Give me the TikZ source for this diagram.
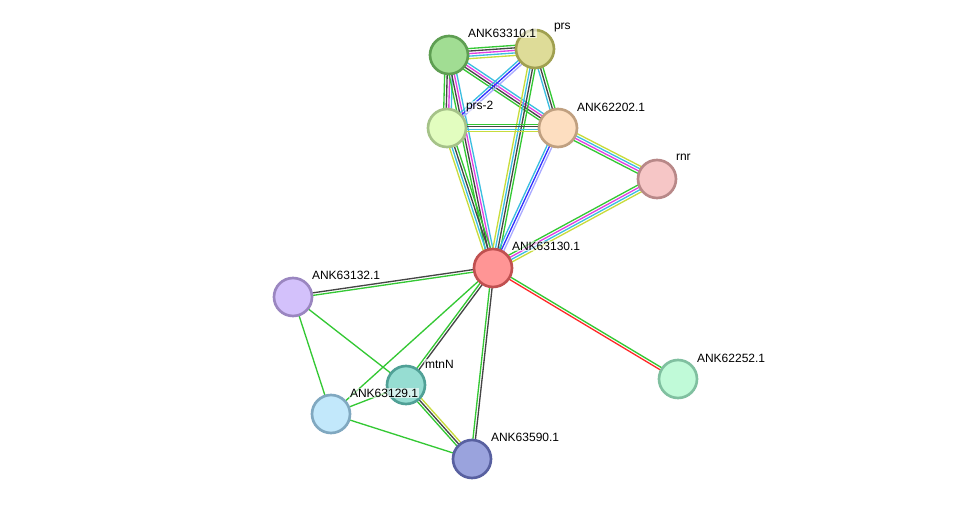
\documentclass[tikz,border=0pt]{standalone}
\usepackage{fontspec}
\setmainfont{Liberation Sans}
\usetikzlibrary{calc,backgrounds}

% evidence colours
\definecolor{tm}{HTML}{C8DC3C}
\definecolor{db}{HTML}{3CBEE0}
\definecolor{ex}{HTML}{E040E0}
\definecolor{co}{HTML}{454545}
\definecolor{nb}{HTML}{34C834}
\definecolor{hm}{HTML}{AAAAFF}
\definecolor{cc}{HTML}{3333FF}
\definecolor{fu}{HTML}{FF2A2A}
% protein colours (fill, border)
\definecolor{fA}{HTML}{A1DD93}\definecolor{bA}{HTML}{5E9E52}
\definecolor{fP}{HTML}{DEDC98}\definecolor{bP}{HTML}{A0A050}
\definecolor{fPt}{HTML}{E2FDBF}\definecolor{bPt}{HTML}{A5C288}
\definecolor{fG}{HTML}{FDDEC0}\definecolor{bG}{HTML}{C0A080}
\definecolor{fR}{HTML}{F6C6C6}\definecolor{bR}{HTML}{B88888}
\definecolor{fC}{HTML}{FF9595}\definecolor{bC}{HTML}{C05050}
\definecolor{fK}{HTML}{D3C1FB}\definecolor{bK}{HTML}{9A86C0}
\definecolor{fM}{HTML}{96DDD2}\definecolor{bM}{HTML}{50A096}
\definecolor{fL}{HTML}{C2E8FB}\definecolor{bL}{HTML}{80A8C0}
\definecolor{fS}{HTML}{9AA3DD}\definecolor{bS}{HTML}{5860A0}
\definecolor{fT}{HTML}{C0FAD8}\definecolor{bT}{HTML}{80C0A0}

% #1,#2 nodes, #3 number of lines, #4 colours
\newcommand\lnk[4]{%
  \foreach \c [count=\i] in {#4} {%
    \pgfmathsetmacro\off{(\i-(#3+1)/2)*1.9}
    \draw[\c, line width=1pt] ($(#1)!\off pt!90:(#2)$) -- ($(#2)!\off pt!-90:(#1)$);
  }%
}

\begin{document}
\begin{tikzpicture}[x=0.75pt, y=-0.75pt,
  prot/.style={circle, line width=2pt, minimum size=28.5pt, inner sep=0pt},
  lbl/.style={anchor=west, inner sep=0.6pt, fill=white, fill opacity=0.6, text opacity=1,
    font=\fontsize{9}{10}\selectfont}]
  \useasboundingbox (0,0) rectangle (975,504);
  % proteins
  \node[prot, fill=fA, draw=bA] (A) at (449,55) {};
  \node[prot, fill=fP, draw=bP] (P) at (535,49) {};
  \node[prot, fill=fPt, draw=bPt] (P2) at (447,128) {};
  \node[prot, fill=fG, draw=bG] (G) at (558,128) {};
  \node[prot, fill=fR, draw=bR] (R) at (657,179) {};
  \node[prot, fill=fC, draw=bC] (C) at (493,268) {};
  \node[prot, fill=fK, draw=bK] (K) at (293,297) {};
  \node[prot, fill=fM, draw=bM] (M) at (406,385) {};
  \node[prot, fill=fL, draw=bL] (L) at (331,414) {};
  \node[prot, fill=fS, draw=bS] (S) at (472,459) {};
  \node[prot, fill=fT, draw=bT] (T) at (678,379) {};
  % links, behind the proteins
  \begin{pgfonlayer}{background}
    \lnk{A}{P}{5}{tm,db,ex,co,nb}
    \lnk{A}{P2}{4}{nb,co,ex,db}
    \lnk{A}{G}{4}{nb,co,ex,db}
    \lnk{A}{C}{4}{nb,co,ex,db}
    \lnk{P}{P2}{3}{db,cc,hm}
    \lnk{P}{G}{3}{db,co,nb}
    \lnk{P}{C}{4}{tm,db,co,nb}
    \lnk{P2}{G}{4}{tm,db,co,nb}
    \lnk{P2}{C}{4}{tm,db,co,nb}
    \lnk{G}{C}{3}{db,cc,hm}
    \lnk{G}{R}{4}{nb,ex,db,tm}
    \lnk{R}{C}{4}{nb,ex,db,tm}
    \lnk{C}{K}{2}{co,nb}
    \lnk{C}{T}{2}{fu,nb}
    \lnk{C}{M}{2}{nb,co}
    \lnk{C}{S}{2}{nb,co}
    \lnk{C}{L}{1}{nb}
    \lnk{K}{M}{1}{nb}
    \lnk{K}{L}{1}{nb}
    \lnk{L}{M}{1}{nb}
    \lnk{L}{S}{1}{nb}
    \lnk{M}{S}{3}{nb,co,tm}
  \end{pgfonlayer}
  % names
  \node[lbl] (Al) at ([shift={(18,-22)}]A) {ANK63310.1};
  \node[lbl] (Pl) at ([shift={(18,-21)}]P) {prs};
  \node[lbl] (P2l) at ([shift={(18,-21)}]P2) {prs-2};
  \node[lbl] (Gl) at ([shift={(18,-21)}]G) {ANK62202.1};
  \node[lbl] (Rl) at ([shift={(18,-22)}]R) {rnr};
  \node[lbl] (Cl) at ([shift={(18,-22)}]C) {ANK63130.1};
  \node[lbl] (Kl) at ([shift={(18,-22)}]K) {ANK63132.1};
  \node[lbl] (Ml) at ([shift={(18,-21)}]M) {mtnN};
  \node[lbl] (Ll) at ([shift={(18,-21)}]L) {ANK63129.1};
  \node[lbl] (Sl) at ([shift={(18,-22)}]S) {ANK63590.1};
  \node[lbl] (Tl) at ([shift={(18,-21)}]T) {ANK62252.1};
\end{tikzpicture}
\end{document}
